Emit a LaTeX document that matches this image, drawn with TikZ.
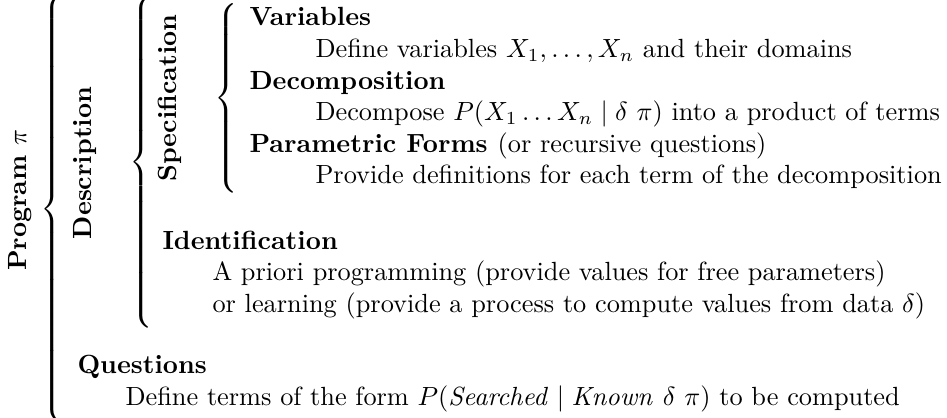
\documentclass[tikz,border=0pt]{standalone}
\usepackage{amsmath}
\usepackage{amssymb}
\usepackage{tikz}
\usetikzlibrary{positioning}

% tall TeX brace of a given height
\newcommand{\tallbrace}[1]{{\delimiterfactor=1000 \delimitershortfall=0pt
  $\left\{\vcenter{\hbox{\rule{0pt}{#1}}}\right.$}}

\begin{document}
\begin{tikzpicture}[
      hd/.style={font=\bfseries, anchor=base west, inner sep=0pt},
      tx/.style={anchor=base west, inner sep=0pt},
      vl/.style={font=\bfseries, rotate=90, inner sep=0pt},
      br/.style={anchor=west, inner sep=0pt}
      ]
      \useasboundingbox (0,0) rectangle (12.656,-5.586);
      % braces
      \node[br] (bprog) at (0.535,-2.793) {\tallbrace{5.50cm}};
      \node[br] (bdesc) at (1.724,-2.172) {\tallbrace{4.26cm}};
      \node[br] (bspec) at (2.860,-1.310) {\tallbrace{2.53cm}};
      % vertical labels
      \node[vl] (prog) at (0.267,-2.673) {Program $\pi$};
      \node[vl] (desc) at (1.136,-2.178) {Description};
      \node[vl] (spec) at (2.272,-1.310) {Specification};
      % specification
      \node[hd] (var)   at (3.328,-0.347) {Variables};
      \node[tx] (varT)  at (4.210,-0.770) {Define variables $X_1, \ldots, X_n$ and their domains};
      \node[hd] (dec)   at (3.328,-1.192) {Decomposition};
      \node[tx] (decT)  at (4.210,-1.614) {Decompose $P(X_1 \ldots X_n \mid \delta\ \pi)$ into a product of terms};
      \node[hd] (par)   at (3.328,-2.037) {Parametric Forms \mdseries(or recursive questions)};
      \node[tx] (parT)  at (4.210,-2.459) {Provide definitions for each term of the decomposition};
      % identification
      \node[hd] (ident) at (2.165,-3.328) {Identification};
      \node[tx] (idA)   at (2.833,-3.755) {A priori programming (provide values for free parameters)};
      \node[tx] (idB)   at (2.833,-4.176) {or learning (provide a process to compute values from data $\delta$)};
      % questions
      \node[hd] (ques)  at (1.029,-4.998) {Questions};
      \node[tx] (quesT) at (1.671,-5.419) {Define terms of the form $P(\mathit{Searched} \mid \mathit{Known}\ \delta\ \pi)$ to be computed};
\end{tikzpicture}
\end{document}
